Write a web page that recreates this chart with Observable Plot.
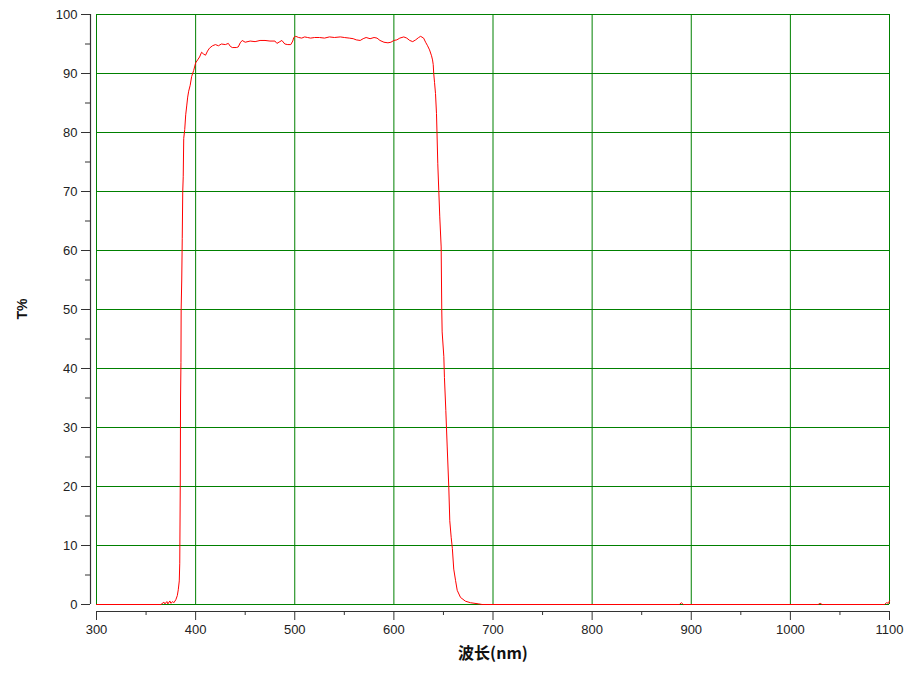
<!DOCTYPE html>
<html>
<head>
<meta charset="utf-8">
<script src="https://cdn.jsdelivr.net/npm/d3@7"></script>
<script src="https://cdn.jsdelivr.net/npm/@observablehq/plot@0.6"></script>
<style>
  html, body { margin: 0; padding: 0; background: #fff; }
  #chart { width: 918px; height: 681px; }
</style>
</head>
<body>
<div id="chart"></div>
<script>
// Wavelength (nm)
const wavelength = [300,365,368,369,371,372,374,375,377,378,380,381.5,382.5,383.5,384,384.5,384.8,385.2,385.4,386,386.5,387,387.5,388,389,390,391,392,393,394.5,396,398,400,402,404,406,408,410,412,414,417,420,423,426,430,433,435,437,441,443,445,447,450,455,460,465,470,475,480,482,485,487,490,493,496,498,499,501,504,507,510,513,516,520,525,530,535,540,546,550,555,559,562,566,569,572,576,580,583,586,590,594,597,600,603,606,610,613,616,619,622,625,627,630,632,634,636,638,639,639.7,640.2,641,642,643,643.5,644.3,645.3,646.3,647.7,648.3,648.7,650.4,651,652.4,653.8,655.4,656.4,657.8,659,660.4,662.2,663.9,667.2,672.2,677.3,685.7,689,888,890,892,1028,1030,1032,1095,1097,1099,1100];
// Transmittance T (%)
const transmittance = [0,0,0.4,0.1,0.5,0.1,0.6,0.2,0.5,0.3,0.8,1.5,2.5,4,7,20,35,41,50,55,62,70,72.5,79,80.5,83,84.5,86,87,88,89.5,90.5,91.8,92.3,92.8,93.6,93.3,93.1,93.8,94.3,94.7,94.9,94.7,95,94.9,95.1,94.6,94.4,94.4,94.5,95.2,95.6,95.3,95.5,95.4,95.6,95.6,95.5,95.5,95.1,95.4,95.6,95.0,94.9,94.9,95.5,96.1,96.3,96.1,96.0,96.2,96.1,96.0,96.1,96.1,96.0,96.2,96.1,96.2,96.1,96.0,95.9,95.7,95.6,95.9,96.1,95.9,96.1,96.0,95.6,95.3,95.2,95.3,95.6,95.7,96.0,96.2,96.0,95.6,95.4,95.7,96.1,96.3,96.0,95.3,94.7,94.0,93.0,92.3,91.5,90,88.5,86.6,83.2,80,74.7,70.2,65.7,60.6,50,46.2,42,38.5,32.9,26.7,19.9,14.2,11.4,9.5,6.0,4.1,2.4,1.2,0.56,0.3,0.1,0,0,0.3,0,0,0.2,0,0,0.3,0.2,0.6];

const xTicks = [300,400,500,600,700,800,900,1000,1100];
const xMinor = [350,450,550,650,750,850,950,1050];
const yTicks = [0,10,20,30,40,50,60,70,80,90,100];
const yMinor = [5,15,25,35,45,55,65,75,85,95];

const data = wavelength.map((w, i) => ({wl: w, t: transmittance[i]}));

const gridColor = "#008000";
const axisColor = "#333";
const font = "'Liberation Sans', Arial, sans-serif";

const chart = Plot.plot({
  width: 918,
  height: 681,
  marginLeft: 96,
  marginRight: 29,
  marginTop: 14,
  marginBottom: 77,
  style: {fontFamily: font, fontSize: "13px", color: "#222", background: "#fff"},
  x: {domain: [300, 1100]},
  y: {domain: [0, 100]},
  marks: [
    Plot.ruleX(xTicks, {stroke: gridColor, strokeWidth: 1}),
    Plot.ruleY(yTicks, {stroke: gridColor, strokeWidth: 1}),
    Plot.line(data, {x: "wl", y: "t", stroke: "#ff0000", strokeWidth: 1}),
    // y axis line offset left of frame
    Plot.ruleX([300], {dx: -6, stroke: axisColor, strokeWidth: 1.2}),
    Plot.axisY(yTicks, {anchor: "left", dx: -6, tickSize: 9, tickPadding: 4, stroke: axisColor, fontSize: 13, label: null, tickFormat: d => String(d)}),
    Plot.axisY(yMinor, {anchor: "left", dx: -6, tickSize: 5, tickFormat: () => "", stroke: axisColor, label: null}),
    // x axis line offset below frame
    Plot.ruleY([0], {dy: 7, stroke: axisColor, strokeWidth: 1.2}),
    Plot.axisX(xTicks, {anchor: "bottom", dy: 7, tickSize: 9, tickPadding: 4, stroke: axisColor, fontSize: 13, label: null, tickFormat: d => String(d)}),
    Plot.axisX(xMinor, {anchor: "bottom", dy: 7, tickSize: 4, tickFormat: () => "", stroke: axisColor, label: null}),
    Plot.text(["T%"], {frameAnchor: "left", dx: -74, dy: 10, rotate: -90, fontWeight: "bold", fontSize: 14, fill: "#111"}),
    Plot.text(["波长(nm)"], {frameAnchor: "bottom", dy: 54, fontWeight: "bold", fontSize: 16, fill: "#111", fontFamily: "'Noto Sans CJK SC', 'Liberation Sans', sans-serif"})
  ]
});
document.getElementById("chart").appendChild(chart);
</script>
</body>
</html>
